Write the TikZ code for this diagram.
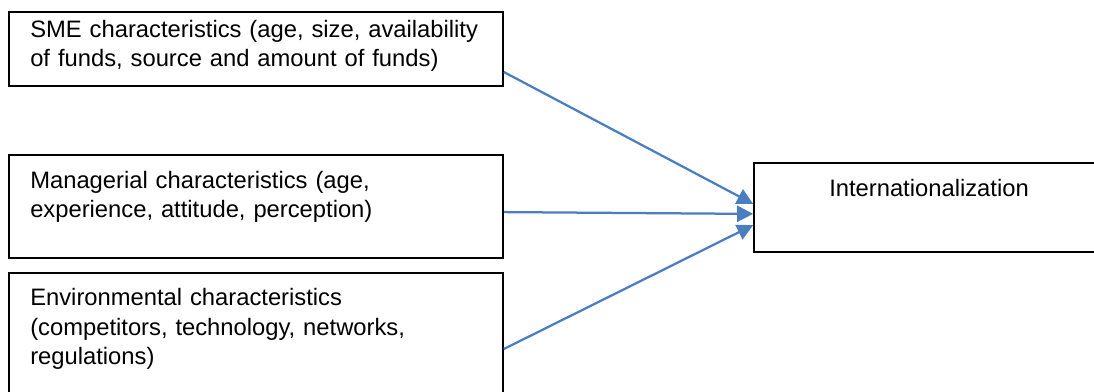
\documentclass[tikz,border=0pt]{standalone}
\usepackage{fontspec}
\setmainfont{Liberation Sans}
\usepackage{xcolor}
\usetikzlibrary{arrows.meta}

\definecolor{arrowblue}{RGB}{74,126,192}

\tikzset{
  factor/.style={draw, line width=1.1pt, minimum width=12.35cm, inner sep=0pt},
  lbl/.style={anchor=base west, align=left, text width=11.8cm, inner sep=0pt,
    font=\fontsize{16.9}{20.9}\selectfont},
  link/.style={draw=arrowblue, line width=1.6pt,
    -{Triangle[length=0.4cm, width=0.4cm]}}
}

\begin{document}
\begin{tikzpicture}[x=0.025cm, y=-0.025cm]
    \useasboundingbox (0,0) rectangle (1094,392);

    % Draw the three factor boxes
    \node[factor, minimum height=1.85cm] (sme) at (256,49) {};
    \node[factor, minimum height=2.575cm] (manager) at (256,206.5) {};
    \node[factor, minimum height=3.2cm] (environ) at (256,337) {};

    % Draw the outcome box
    \node[draw, line width=1.1pt, minimum width=8.65cm, minimum height=2.225cm,
          inner sep=0pt] (intl) at (927,207.5) {};

    % Label the boxes
    \node[lbl] (smetext) at (30,37.3) {SME characteristics (age, size, availability\\of funds, source and amount of funds)};
    \node[lbl] (managertext) at (30,188.5) {Managerial characteristics (age,\\experience, attitude, perception)};
    \node[lbl] (environtext) at (30,305.7) {Environmental characteristics\\(competitors, technology, networks,\\regulations)};
    \node[anchor=base, inner sep=0pt, font=\fontsize{16.9}{20.9}\selectfont]
          (intltext) at (929,197) {Internationalization};

    % Draw the arrows
    \draw[link] ([yshift=-0.575cm]sme.east) -- ([yshift=0.09cm]intl.west);
    \draw[link] ([yshift=-0.14cm]manager.east) -- ([yshift=-0.16cm]intl.west);
    \draw[link] ([yshift=-0.3cm]environ.east) -- ([yshift=-0.44cm]intl.west);
\end{tikzpicture}
\end{document}
